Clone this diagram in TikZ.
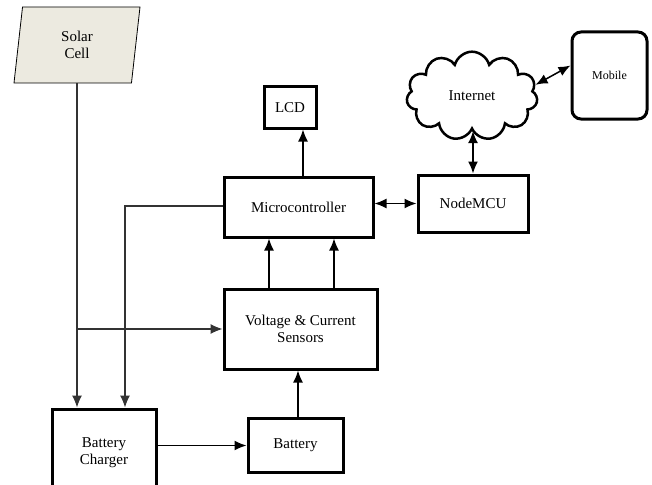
\documentclass[tikz,border=0pt]{standalone}
\usepackage{fontspec}
\setmainfont{Liberation Serif}
\newfontfamily\tnr{Liberation Serif}
\usetikzlibrary{shapes.geometric,shapes.symbols,arrows.meta}
\definecolor{solarbg}{RGB}{236,234,224}

\begin{document}
\begin{tikzpicture}[x=1pt,y=-1pt,
    font=\tnr\fontsize{15}{17}\selectfont,
    blk/.style={draw,line width=3pt,align=center,inner sep=0pt},
    wire/.style={line width=1.5pt,-{Latex[length=12pt,width=10pt]}},
    feed/.style={line width=1.1pt,black!80,-{Latex[length=12pt,width=10pt]}},
    both/.style={line width=1.5pt,{Latex[length=12pt,width=10pt]}-{Latex[length=12pt,width=10pt]}}]

    \clip (0,0) rectangle (652,484);

    \node[trapezium,trapezium left angle=76,trapezium right angle=104,trapezium stretches body,
          draw,thick,fill=solarbg,minimum width=126,minimum height=76,align=center] (solar) at (77,45) {Solar\\Cell};
    \node[blk,minimum width=52,minimum height=41] (lcd) at (290,107.5) {LCD};
    \node[blk,minimum width=149,minimum height=60] (mcu) at (298.5,207) {Microcontroller};
    \node[blk,minimum width=110,minimum height=57] (nodemcu) at (473,203.5) {NodeMCU};
    \node[blk,minimum width=153,minimum height=80] (sens) at (300.5,329) {Voltage \& Current\\Sensors};
    \node[blk,minimum width=104,minimum height=88] (charger) at (104,453) {Battery\\Charger};
    \node[blk,minimum width=95,minimum height=54] (batt) at (295.5,445.5) {Battery};
    \node[cloud,cloud puffs=11,draw,line width=2.5pt,minimum width=131,minimum height=67] (inet) at (472,96) {Internet};
    \node[blk,rounded corners=9pt,minimum width=75,minimum height=87,
          font=\tnr\fontsize{12}{14}\selectfont] (mobile) at (609.5,75.5) {Mobile};

    % solar cell feeds
    \coordinate (split) at (solar.center |- sens.west);
    \draw[feed] (solar.south -| solar.center) -- (solar.center |- charger.north);
    \draw[feed] (split) -- (sens.west);
    \coordinate (bend) at (125,206);
    \draw[feed] (mcu.west |- bend) -- (bend) -- (bend |- charger.north);

    \coordinate (lcdfoot) at ([xshift=4.5pt]mcu.north);
    \draw[wire] (lcdfoot) -- (lcdfoot |- lcd.south);
    \foreach \dx in {-29.5,35.5} {
        \coordinate (up) at ([xshift=\dx pt]mcu.south);
        \draw[wire] (up |- sens.north) -- (up);
    }
    \coordinate (bup) at ([xshift=2.5pt]batt.north);
    \draw[wire] (bup) -- (bup |- sens.south);
    \draw[wire] (charger.east |- batt.west) -- (batt.west);

    \draw[both] (mcu.east |- nodemcu.west) -- (nodemcu.west);
    \draw[both] (inet.south -| nodemcu.north) -- (nodemcu.north);
    \draw[both] (inet.10) -- ([yshift=10pt]mobile.west);

\end{tikzpicture}
\end{document}
